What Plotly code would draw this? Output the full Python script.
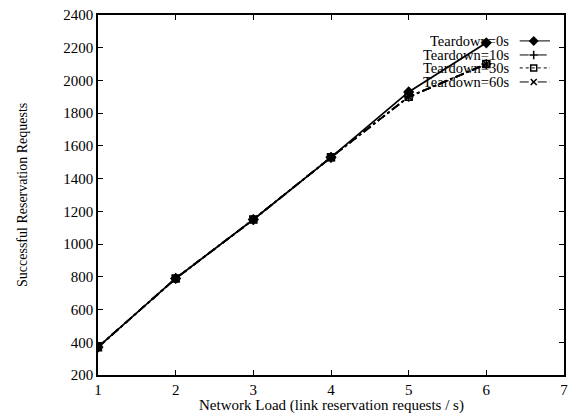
import plotly.graph_objects as go

load = [1, 2, 3, 4, 5, 6]
series_names = ["Teardown=0s", "Teardown=10s", "Teardown=30s", "Teardown=60s"]
td_0 = [370, 790, 1150, 1530, 1930, 2230]
td_10 = [370, 790, 1150, 1530, 1900, 2100]
td_30 = [370, 790, 1150, 1530, 1900, 2100]
td_60 = [370, 790, 1150, 1530, 1900, 2100]
x_ticks = [1, 2, 3, 4, 5, 6, 7]
y_ticks = [200, 400, 600, 800, 1000, 1200, 1400, 1600, 1800, 2000, 2200, 2400]

FONT = "Liberation Serif"
symbols = ["diamond", "cross-thin", "square-open", "x-thin"]
dashes = ["solid", "dash", "dot", "dashdot"]
values = [td_0, td_10, td_30, td_60]

fig = go.Figure()
for name, vals, sym, dash in zip(series_names, values, symbols, dashes):
    fig.add_trace(go.Scatter(
        x=load, y=vals, mode="lines+markers", name=name,
        line=dict(color="black", width=1.8, dash=dash),
        marker=dict(symbol=sym, size=7, color="black",
                    line=dict(color="black", width=1.5)),
        showlegend=False,
    ))

# custom legend (text right-aligned, sample to the right) on a hidden overlay axis
leg_y = [0.928, 0.889, 0.853, 0.814]
for name, sym, dash, ly in zip(series_names, symbols, dashes, leg_y):
    fig.add_trace(go.Scatter(
        x=[0.905, 0.97], y=[ly, ly], xaxis="x2", yaxis="y2", mode="lines",
        line=dict(color="black", width=1, dash=dash), showlegend=False,
        hoverinfo="skip"))
    fig.add_trace(go.Scatter(
        x=[0.935], y=[ly], xaxis="x2", yaxis="y2", mode="markers",
        marker=dict(symbol=sym, size=6, color="black",
                    line=dict(color="black", width=1.5)),
        showlegend=False, hoverinfo="skip"))
    fig.add_annotation(x=0.887, y=ly, xref="x2", yref="y2", text=name,
                       showarrow=False, xanchor="right", yanchor="middle",
                       height=13, font=dict(family=FONT, size=14.5, color="black"))

fig.add_annotation(x=0.5, y=-30 / 360, xref="paper", yref="paper",
                   text="Network Load (link reservation requests / s)",
                   showarrow=False, xanchor="center", yanchor="middle",
                   font=dict(family=FONT, size=15, color="black"))
fig.add_annotation(x=-76 / 466, y=0.5, xref="paper", yref="paper",
                   text="Successful Reservation Requests", textangle=-90,
                   showarrow=False, xanchor="center", yanchor="middle",
                   font=dict(family=FONT, size=14, color="black"))

axis_common = dict(
    showgrid=False, zeroline=False, showline=True, linecolor="black",
    linewidth=1.6, mirror="ticks", ticks="inside", ticklen=5,
    tickcolor="black", tickwidth=1.2, automargin=False,
    ticklabeloverflow="allow",
    tickfont=dict(family=FONT, size=15, color="black"),
)

fig.update_layout(
    width=568, height=415,
    margin=dict(l=98, r=4, t=15, b=40, autoexpand=False),
    paper_bgcolor="white", plot_bgcolor="white",
    xaxis=dict(range=[1, 7], tickvals=x_ticks, **axis_common),
    yaxis=dict(range=[200, 2400], tickvals=y_ticks, **axis_common),
    xaxis2=dict(range=[0, 1], overlaying="x", visible=False),
    yaxis2=dict(range=[0, 1], overlaying="y", visible=False),
)

# remove the default 8px page margin so the figure fills the window exactly
fig.write_html("out.html",
               config={"displayModeBar": False},
               post_script="document.body.style.margin='0';"
                           "document.body.style.overflow='hidden';")
